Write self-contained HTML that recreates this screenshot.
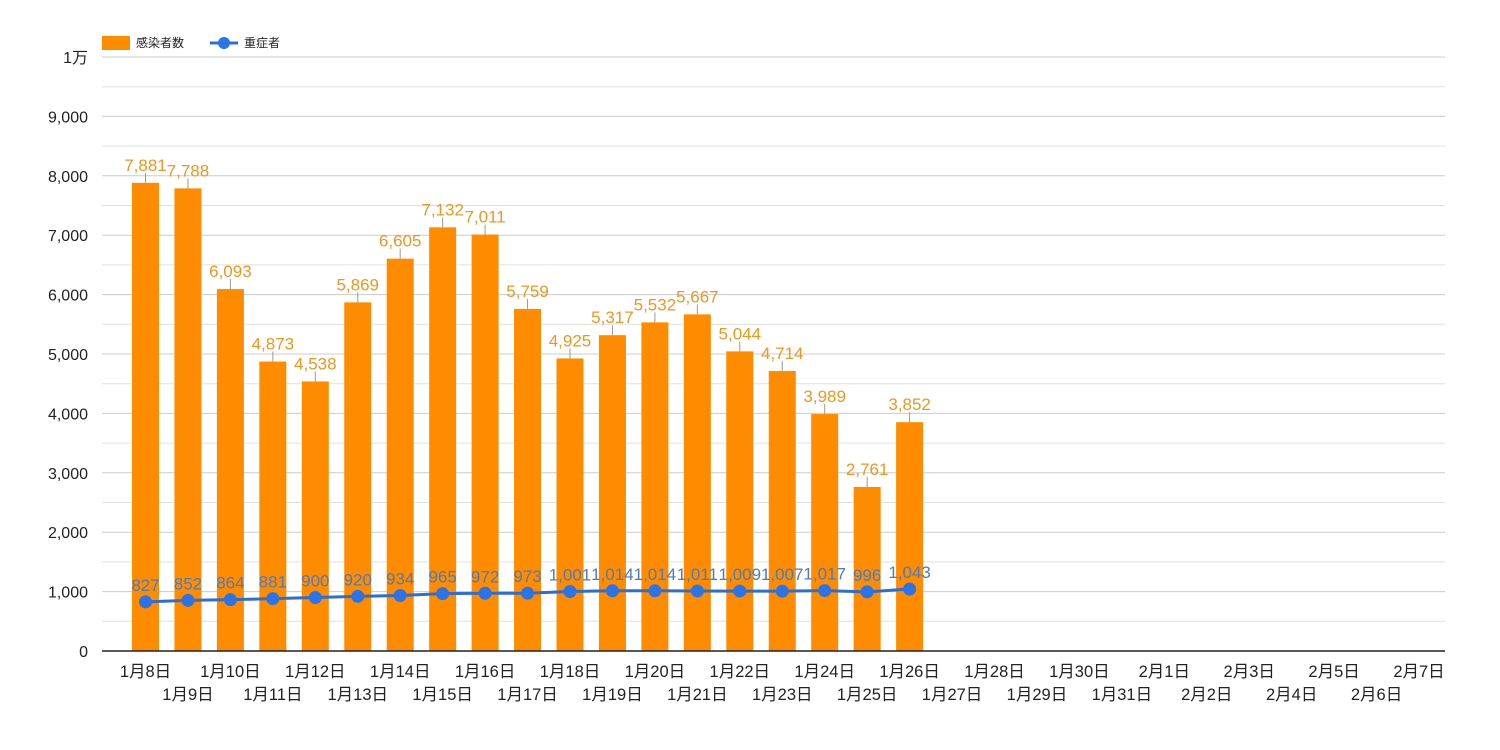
<!DOCTYPE html>
<html><head><meta charset="utf-8"><style>body{margin:0;background:#fff}svg{display:block}text{font-family:"Liberation Sans","Noto Sans CJK JP",sans-serif}</style></head><body>
<svg width="1500" height="750" xmlns="http://www.w3.org/2000/svg" id="s"></svg>
<script>
const s=document.getElementById('s');let h='';
const Y=v=>651-v*0.0594, X=i=>145.5+42.45*i;
for(let k=1;k<=20;k++){const y=Y(k*500);h+=`<line x1="102" x2="1445" y1="${y}" y2="${y}" stroke="${k%2?'#e0e0e0':'#cccccc'}" stroke-width="1"/>`;}
const yl=['0','1,000','2,000','3,000','4,000','5,000','6,000','7,000','8,000','9,000','1万'];
yl.forEach((t,i)=>h+=`<text x="88" y="${Y(i*1000)+6}" font-size="16" text-anchor="end" fill="#222">${t}</text>`);
const b=[7881,7788,6093,4873,4538,5869,6605,7132,7011,5759,4925,5317,5532,5667,5044,4714,3989,2761,3852];
const l=[827,852,864,881,900,920,934,965,972,973,1001,1014,1014,1011,1009,1007,1017,996,1043];
const f=n=>n.toLocaleString('en-US');
b.forEach((v,i)=>{const x=X(i);h+=`<rect x="${x-13.5}" y="${Y(v)}" width="27" height="${651-Y(v)}" fill="#ff8c00"/><line x1="${x}" x2="${x}" y1="${Y(v)-10}" y2="${Y(v)}" stroke="#999"/><text x="${x}" y="${Y(v)-12}" font-size="17" text-anchor="middle" fill="#f0961e">${f(v)}</text>`;});
h+=`<line x1="102" x2="1445" y1="651" y2="651" stroke="#222" stroke-width="1.5"/>`;
h+=`<polyline fill="none" stroke="#2a6fd6" stroke-width="3" points="${l.map((v,i)=>X(i)+','+Y(v)).join(' ')}"/>`;
l.forEach((v,i)=>{h+=`<circle cx="${X(i)}" cy="${Y(v)}" r="6.5" fill="#2a73e8"/><text x="${X(i)}" y="${Y(v)-11}" font-size="17" text-anchor="middle" fill="#4a7cc0">${f(v)}</text>`;});
for(let i=0;i<31;i++){let m=1,d=8+i;if(d>31){m=2;d-=31;}h+=`<text x="${X(i)}" y="${i%2?700:677}" font-size="16.5" text-anchor="middle" fill="#222">${m}月${d}日</text>`;}
h+=`<rect x="102" y="36" width="28" height="14" fill="#ff8c00"/><text x="136" y="47" font-size="12" fill="#222">感染者数</text><line x1="210" x2="238" y1="43" y2="43" stroke="#2a6fd6" stroke-width="3"/><circle cx="224" cy="43" r="6" fill="#2a73e8"/><text x="244" y="47" font-size="12" fill="#222">重症者</text>`;
s.innerHTML=h;
</script>
</body></html>
